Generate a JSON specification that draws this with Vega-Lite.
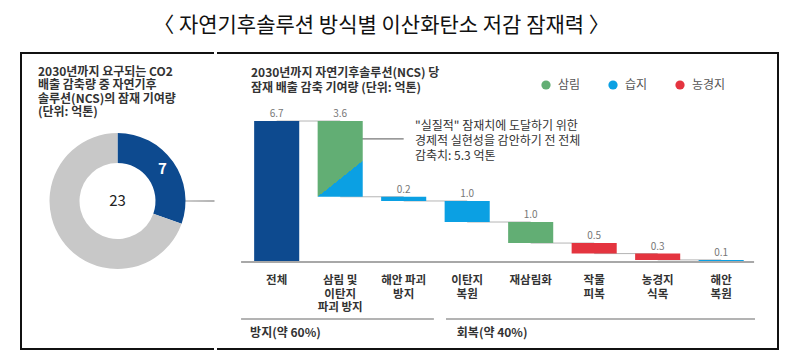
{
  "$schema": "https://vega.github.io/schema/vega-lite/v6.json",
  "background": "white",
  "padding": {"left": 20, "top": 15, "right": 0, "bottom": 0},
  "spacing": 0,
  "title": {"text": "〈 자연기후솔루션 방식별 이산화탄소 저감 잠재력 〉", "fontSize": 21, "fontWeight": "normal", "font": "Noto Sans CJK KR", "color": "#111", "anchor": "middle", "offset": 16, "dx": -18},
  "config": {"font": "Noto Sans CJK KR", "view": {"stroke": null}},
  "resolve": {"scale": {"color": "independent"}, "legend": {"color": "independent"}},
  "datasets": {
    "bars": [
      {"cat": "전체", "type": "전체", "start": 0, "end": 6.7, "value": 6.7},
      {"cat": "삼림 및\n이탄지\n파괴 방지", "type": "혼합", "start": 3.1, "end": 6.7, "value": 3.6},
      {"cat": "해안 파괴\n방지", "type": "습지", "start": 2.9, "end": 3.1, "value": 0.2},
      {"cat": "이탄지\n복원", "type": "습지", "start": 1.9, "end": 2.9, "value": 1.0},
      {"cat": "재삼림화", "type": "삼림", "start": 0.9, "end": 1.9, "value": 1.0},
      {"cat": "작물\n피복", "type": "농경지", "start": 0.4, "end": 0.9, "value": 0.5},
      {"cat": "농경지\n식목", "type": "농경지", "start": 0.1, "end": 0.4, "value": 0.3},
      {"cat": "해안\n복원", "type": "습지", "start": 0, "end": 0.1, "value": 0.1}
    ],
    "conn": [
      {"seg": 1, "cat": "전체", "level": 6.7},
      {"seg": 1, "cat": "삼림 및\n이탄지\n파괴 방지", "level": 6.7},
      {"seg": 2, "cat": "삼림 및\n이탄지\n파괴 방지", "level": 3.1},
      {"seg": 2, "cat": "해안 파괴\n방지", "level": 3.1},
      {"seg": 3, "cat": "해안 파괴\n방지", "level": 2.9},
      {"seg": 3, "cat": "이탄지\n복원", "level": 2.9},
      {"seg": 4, "cat": "이탄지\n복원", "level": 1.9},
      {"seg": 4, "cat": "재삼림화", "level": 1.9},
      {"seg": 5, "cat": "재삼림화", "level": 0.9},
      {"seg": 5, "cat": "작물\n피복", "level": 0.9},
      {"seg": 6, "cat": "작물\n피복", "level": 0.4},
      {"seg": 6, "cat": "농경지\n식목", "level": 0.4},
      {"seg": 7, "cat": "농경지\n식목", "level": 0.1},
      {"seg": 7, "cat": "해안\n복원", "level": 0.1}
    ],
    "one": [{}]
  },
  "hconcat": [
    {
      "width": 193,
      "height": 296,
      "view": {"stroke": "#111", "strokeWidth": 2, "strokeDash": [193, 296, 1000]},
      "title": {"text": ["2030년까지 요구되는 CO2", "배출 감축량 중 자연기후", "솔루션(NCS)의 잠재 기여량", "(단위: 억톤)"], "anchor": "start", "frame": "group", "fontSize": 12, "fontWeight": "bold", "color": "#333", "lineHeight": 13.5, "offset": -66, "dx": 17},
      "layer": [
        {
          "data": {"name": "one"},
          "mark": {"type": "arc", "innerRadius": 67, "outerRadius": 97, "theta": 1.5636, "theta2": 1.578, "color": "#9a9a9a"}
        },
        {
          "data": {"values": [{"part": "NCS", "value": 7}, {"part": "기타", "value": 16}]},
          "layer": [
            {
              "mark": {"type": "arc", "innerRadius": 38, "outerRadius": 68},
              "encoding": {
                "theta": {"field": "value", "type": "quantitative", "stack": true},
                "order": {"field": "value", "sort": "ascending"},
                "color": {"field": "part", "type": "nominal", "scale": {"domain": ["NCS", "기타"], "range": ["#0D4A8F", "#C8C8C8"]}, "legend": null}
              }
            },
            {
              "mark": {"type": "text", "radius": 55, "fontSize": 15, "fontWeight": "bold", "color": "white"},
              "encoding": {
                "theta": {"field": "value", "type": "quantitative", "stack": true},
                "order": {"field": "value", "sort": "ascending"},
                "text": {"condition": {"test": "datum.part === 'NCS'", "field": "value", "type": "quantitative"}, "value": ""}
              }
            },
            {
              "mark": {"type": "text", "fontSize": 15, "color": "#222"},
              "encoding": {"text": {"aggregate": "sum", "field": "value", "type": "quantitative"}}
            }
          ]
        }
      ]
    },
    {
      "width": 561,
      "height": 296,
      "view": {"stroke": "#111", "strokeWidth": 2, "strokeDash": [1418, 296]},
      "title": {"text": ["2030년까지 자연기후솔루션(NCS) 당", "잠재 배출 감축 기여량 (단위: 억톤)"], "anchor": "start", "frame": "group", "fontSize": 12, "fontWeight": "bold", "color": "#333", "lineHeight": 15, "offset": -42, "dx": 34},
      "layer": [
        {
          "data": {"name": "conn"},
          "mark": {"type": "line", "color": "#b5b5b5", "strokeWidth": 1},
          "encoding": {
            "x": {"field": "cat", "type": "nominal", "axis": null, "sort": null,
                  "scale": {"type": "band", "domain": ["전체", "삼림 및\n이탄지\n파괴 방지", "해안 파괴\n방지", "이탄지\n복원", "재삼림화", "작물\n피복", "농경지\n식목", "해안\n복원"], "paddingInner": 0.29, "paddingOuter": 0.5625, "align": 0.52}},
            "y": {"field": "level", "type": "quantitative", "scale": {"domain": [-4.135, 9.933], "nice": false, "zero": false},
                  "axis": {"title": null, "domain": true, "domainColor": "#9a9a9a", "domainWidth": 1, "labels": false, "ticks": false, "grid": false}},
            "detail": {"field": "seg", "type": "nominal"}
          }
        },
        {
          "data": {"name": "one"},
          "mark": {"type": "rule", "color": "#555", "strokeWidth": 1},
          "encoding": {
            "x": {"datum": "삼림 및\n이탄지\n파괴 방지", "bandPosition": 0.5, "axis": null},
            "x2": {"datum": "해안 파괴\n방지", "bandPosition": 0.5},
            "y": {"datum": 5.85, "axis": null}
          }
        },
        {
          "data": {"name": "bars"},
          "transform": [{"filter": "datum.type !== '혼합'"}],
          "mark": {"type": "bar"},
          "encoding": {
            "x": {"field": "cat", "type": "nominal", "axis": null, "sort": null},
            "y": {"field": "start", "type": "quantitative", "axis": null},
            "y2": {"field": "end"},
            "color": {"field": "type", "type": "nominal",
                      "scale": {"domain": ["삼림", "습지", "농경지", "전체"], "range": ["#62AE74", "#0BA0E3", "#E4343F", "#0D4A8F"]},
                      "legend": {"orient": "none", "legendX": 323, "legendY": 26, "direction": "horizontal", "columns": 3, "title": null, "symbolType": "circle", "symbolSize": 85, "symbolStrokeWidth": 0, "labelFontSize": 12, "labelColor": "#555", "labelOffset": 6, "columnPadding": 26, "padding": 0, "values": ["삼림", "습지", "농경지"]}}
          }
        },
        {
          "data": {"name": "bars"},
          "transform": [{"filter": "datum.type === '혼합'"}],
          "mark": {"type": "bar", "fill": {"gradient": "linear", "x1": 0, "y1": 0, "x2": 0.474, "y2": 1, "stops": [{"offset": 0, "color": "#62AE74"}, {"offset": 0.8165, "color": "#62AE74"}, {"offset": 0.8165, "color": "#0BA0E3"}, {"offset": 1, "color": "#0BA0E3"}]}},
          "encoding": {
            "x": {"field": "cat", "type": "nominal", "axis": null, "sort": null},
            "y": {"field": "start", "type": "quantitative", "axis": null},
            "y2": {"field": "end"}
          }
        },
        {
          "data": {"name": "bars"},
          "mark": {"type": "text", "baseline": "bottom", "dy": -2, "fontSize": 10, "color": "#777"},
          "encoding": {
            "x": {"field": "cat", "type": "nominal", "axis": null, "sort": null},
            "y": {"field": "end", "type": "quantitative", "axis": null},
            "text": {"field": "value", "type": "quantitative", "format": ".1f"}
          }
        },
        {
          "data": {"name": "bars"},
          "mark": {"type": "text", "baseline": "top", "lineBreak": "\n", "lineHeight": 13.5, "fontSize": 11.5, "fontWeight": "bold", "color": "#333"},
          "encoding": {
            "x": {"field": "cat", "type": "nominal", "axis": null, "sort": null},
            "y": {"datum": -0.64, "axis": null},
            "text": {"field": "cat", "type": "nominal"}
          }
        },
        {
          "data": {"name": "one"},
          "mark": {"type": "rule", "color": "#a8a8a8", "strokeWidth": 2},
          "encoding": {
            "x": {"datum": "전체", "bandPosition": -0.29, "axis": null},
            "x2": {"datum": "해안\n복원", "bandPosition": 1.23},
            "y": {"datum": 0, "axis": null}
          }
        },
        {
          "data": {"name": "one"},
          "mark": {"type": "rule", "color": "#9a9a9a", "strokeWidth": 1.5},
          "encoding": {
            "x": {"datum": "전체", "bandPosition": -0.29, "axis": null},
            "x2": {"datum": "해안 파괴\n방지", "bandPosition": 1.17},
            "y": {"datum": -2.71, "axis": null}
          }
        },
        {
          "data": {"name": "one"},
          "mark": {"type": "rule", "color": "#9a9a9a", "strokeWidth": 1.5},
          "encoding": {
            "x": {"datum": "이탄지\n복원", "bandPosition": 0.03, "axis": null},
            "x2": {"datum": "해안\n복원", "bandPosition": 1.25},
            "y": {"datum": -2.71, "axis": null}
          }
        },
        {
          "data": {"name": "one"},
          "mark": {"type": "text", "align": "left", "baseline": "middle", "fontSize": 12, "fontWeight": "bold", "color": "#333"},
          "encoding": {
            "x": {"datum": "전체", "bandPosition": -0.09, "axis": null},
            "y": {"datum": -3.37, "axis": null},
            "text": {"value": "방지(약 60%)"}
          }
        },
        {
          "data": {"name": "one"},
          "mark": {"type": "text", "align": "left", "baseline": "middle", "fontSize": 12, "fontWeight": "bold", "color": "#333"},
          "encoding": {
            "x": {"datum": "이탄지\n복원", "bandPosition": 0.27, "axis": null},
            "y": {"datum": -3.37, "axis": null},
            "text": {"value": "회복(약 40%)"}
          }
        },
        {
          "data": {"name": "one"},
          "mark": {"type": "text", "align": "left", "baseline": "top", "lineHeight": 15, "fontSize": 12, "color": "#333"},
          "encoding": {
            "x": {"datum": "해안 파괴\n방지", "bandPosition": 0.75, "axis": null},
            "y": {"datum": 6.7, "axis": null},
            "text": {"value": ["\"실질적\" 잠재치에 도달하기 위한", "경제적 실현성을 감안하기 전 전체", "감축치: 5.3 억톤"]}
          }
        }
      ]
    }
  ]
}
